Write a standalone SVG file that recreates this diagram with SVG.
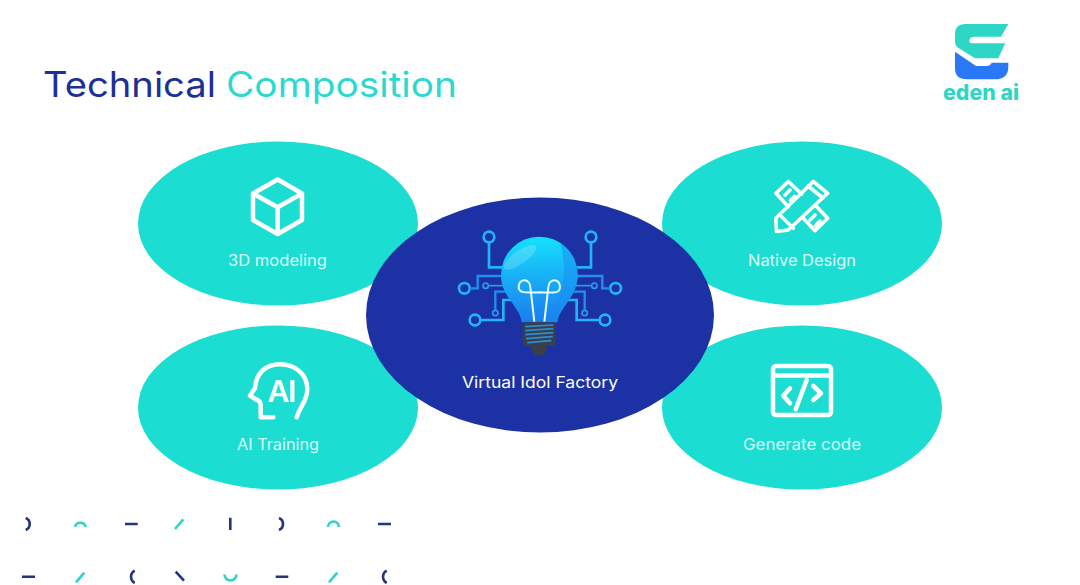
<svg xmlns="http://www.w3.org/2000/svg" width="1080" height="585" viewBox="0 0 1080 585">
<style>
.t{fill:#1cddd2}.n{fill:#1c31a3}
.lab{font-family:"Inter","Liberation Sans",sans-serif;font-size:15.5px;fill:#fff;fill-opacity:.85}
.ic{fill:none;stroke:#fff;stroke-width:4.5;stroke-linecap:round;stroke-linejoin:round}
.ic3{fill:none;stroke:#fff;stroke-width:3.6;stroke-linecap:round;stroke-linejoin:round}
.dn{fill:none;stroke:#25347f;stroke-width:2.6}
.dt{fill:none;stroke:#2fd3cb;stroke-width:2.6}
.c2{fill:none;stroke:#1f8ff0;stroke-width:7}
.c3{fill:none;stroke:#22b5f5;stroke-width:8}
.c4{fill:none;stroke:#2a9bea;stroke-width:5}
</style>
<defs>
<linearGradient id="bulb" x1="0.5" y1="0" x2="0.5" y2="1"><stop offset="0" stop-color="#14e2fb"/><stop offset="0.45" stop-color="#18b2f7"/><stop offset="1" stop-color="#1a7cf0"/></linearGradient>
</defs>
<rect width="1080" height="585" fill="#fff"/>
<g id="title" font-family="Inter,'Liberation Sans',sans-serif" font-size="35">
<text x="43" y="97" fill="#1c2f96" textLength="173" lengthAdjust="spacingAndGlyphs">Technical</text>
<text x="226" y="97" fill="#2cd9d0" textLength="231" lengthAdjust="spacingAndGlyphs">Composition</text>
</g>
<g id="logo">
<path fill="#2ed6c6" d="M965,24H1008.3L1001,36.7H975Q969.3,36.7 969.3,41Q969.3,43.3 973.3,43.3H1005.3L998.3,58.3H975L957.3,47.3Q955,45 955,41.7V34Q955,24 965,24Z"/>
<path fill="#2b78f6" d="M955,51.7L976,66H986.7Q990,66 991.7,62.7H1008.3V66.7Q1008.3,79.3 995,79.3H966.7Q955,79.3 955,68.3Z"/>
<text x="943" y="100" font-family="Inter,'Liberation Sans',sans-serif" font-weight="800" font-size="21" fill="#2ed6c6" textLength="76" lengthAdjust="spacingAndGlyphs">eden ai</text>
</g>
<g id="node-3d">
<ellipse class="t" cx="278" cy="223.5" rx="140" ry="82"/>
<path class="ic" d="M277.7,179.5L302,193.5V220L277.7,234L253,220V193.5ZM253,193.5L277.7,207.3L302,193.5M277.7,207.3V234"/>
<text class="lab" x="228" y="266" textLength="99" lengthAdjust="spacingAndGlyphs">3D modeling</text>
</g>
<g id="node-ai">
<ellipse class="t" cx="278" cy="407.5" rx="140" ry="82"/>
<path class="ic" d="M273.3,417.3H260.7V405Q260.7,401 256,399.5L250,395.7L255,388C256,373 266,364.3 280,364.3C296,364.3 307.3,375 307.3,389C307.3,402 300,405 296.7,417.3"/>
<text x="267.5 288" y="402" font-family="Inter,'Liberation Sans',sans-serif" font-weight="600" font-size="30" fill="#fff">AI</text>
<text class="lab" x="237" y="450" textLength="82" lengthAdjust="spacingAndGlyphs">AI Training</text>
</g>
<g id="node-design">
<ellipse class="t" cx="802" cy="223.5" rx="140" ry="82"/>
<path class="ic3" d="M801.7,194L788.3,181.5L776,193.3L788.3,206.7M815,205L827.7,218.3L815,230.7L803.3,218.3"/>
<path class="ic3" d="M785,195L790,190M790.5,200.5L794.5,196.5M810,220L815,215M815.5,225.5L820,221"/>
<path class="ic3" d="M813.3,181.5L827.7,193.3L788.3,230L776.5,231.5L775.7,218.3ZM808,186L823,198M781.7,216.7L793.3,228.3"/>
<text class="lab" x="748" y="266" textLength="108" lengthAdjust="spacingAndGlyphs">Native Design</text>
</g>
<g id="node-code">
<ellipse class="t" cx="802" cy="407.5" rx="140" ry="82"/>
<rect class="ic" x="773" y="366" width="58" height="49" rx="3"/>
<path class="ic" d="M773,375.5H831M790,388.3L783.3,395.7L790,403.3M813.3,386L821,393.3L813.3,400M806.7,380L795.7,409.3"/>
<text class="lab" x="743" y="450" textLength="118" lengthAdjust="spacingAndGlyphs">Generate code</text>
</g>
<g id="node-center">
<ellipse class="n" cx="540" cy="315" rx="174" ry="117.5"/>
<g id="bulb-art" transform="translate(440 210) scale(.33333)">
<g id="side">
<circle class="c3" cx="147" cy="81" r="16"/><path class="c3" d="M147,97V172H190"/>
<circle class="c3" cx="73" cy="235" r="16"/><path class="c2" d="M89,235H113V198H190"/>
<circle class="c4" cx="137" cy="227" r="8"/><path class="c4" d="M145,227H195"/>
<circle class="c4" cx="166" cy="309" r="8"/><path class="c2" d="M166,301V245H200"/>
<circle class="c3" cx="105" cy="330" r="16"/><path class="c3" d="M121,330H190V270H222"/>
</g>
<use href="#side" transform="matrix(-1 0 0 1 600 0)"/>
<path fill="url(#bulb)" d="M245,337C240,290 183,262 183,195A115,115 0 0 1 413,195C413,262 358,290 352,337Z"/>
<path fill="#1a8cf0" fill-opacity=".5" d="M360,97A115,115 0 0 1 413,195C413,262 358,290 352,337H310C345,290 395,220 360,97Z"/>
<ellipse cx="240" cy="142" rx="58" ry="20" fill="#fff" fill-opacity=".18" transform="rotate(-35 240 142)"/>
<path fill="none" stroke="#e8fbff" stroke-width="6" d="M283,335L272,240C272,200 236,205 236,230C236,252 262,248 300,247C338,248 360,252 360,230C360,205 324,200 324,240L313,335"/>
<rect x="248" y="337" width="99" height="70" rx="8" fill="#3a3f4c"/>
<path fill="#3c3f46" d="M272,407H322Q318,437 297,437Q276,437 272,407Z"/>
<path fill="none" stroke="#2c8fd6" stroke-width="5" d="M256,350L340,345M256,362L340,356M256,374L340,368M258,386L338,380M262,398L334,392"/>
</g>
<text class="lab" x="462" y="388" textLength="156" lengthAdjust="spacingAndGlyphs" style="fill-opacity:1">Virtual Idol Factory</text>
</g>
<g id="dashes">
<path class="dn" d="M25.7,518A6.5,6.5 0 0 1 25.7,530M279,518A6.5,6.5 0 0 1 279,530M125,524H137.7M378,524H391M230.3,517.7V530M22,576.7H35M175.7,571.7L184,580.7M275.7,576.7H288.3M134.7,570.7A7,7 0 0 0 134.7,583M386.7,570.7A7,7 0 0 0 386.7,583"/>
<path class="dt" d="M75,527A5.5,5.5 0 0 1 85.7,527M328,527A5.5,5.5 0 0 1 339,527M175,529L183.3,519.3M76,582.3L84.3,572.7M329,582.3L337.3,572.7M224.5,574.5A6,6 0 0 0 236.5,574.5"/>
</g>
</svg>
